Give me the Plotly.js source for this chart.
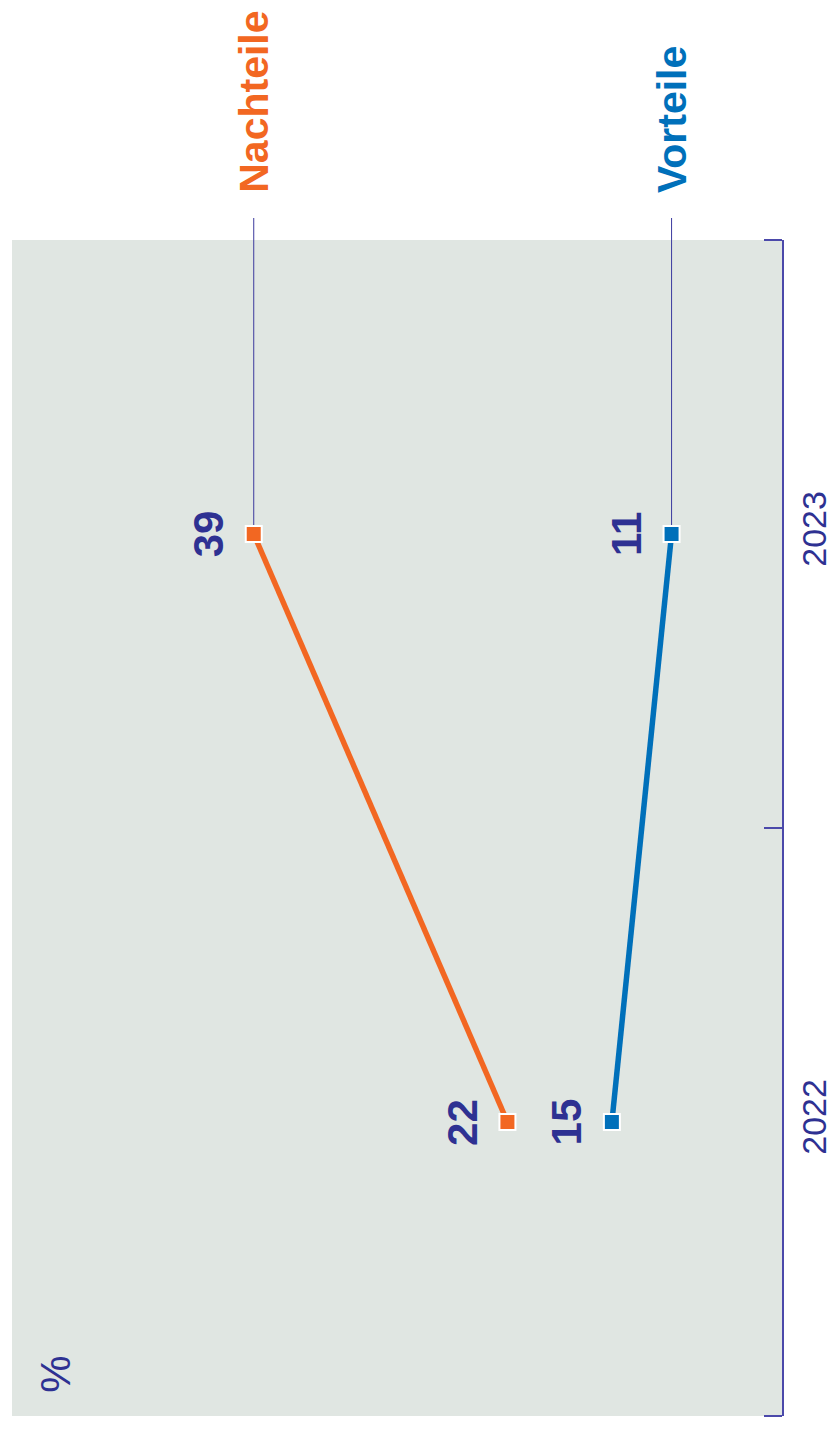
<!DOCTYPE html>
<html><head><meta charset="utf-8">
<script src="https://cdn.plot.ly/plotly-3.0.1.min.js"></script>
<style>html,body{margin:0;padding:0;background:#fff}#chart{width:836px;height:1429px}</style>
</head><body><div id="chart"></div>
<script>
const years = ['2022', '2023'];
const nachteile = [22, 39];
const vorteile = [15, 11];
const seriesNames = ['Nachteile', 'Vorteile'];
const unitLabel = '%';

const orange = '#F26722';
const blue = '#0070BA';
const navy = '#2E3192';
const axisCol = '#4B49AA';
const font = 'Liberation Sans, Arial, sans-serif';

const xRange = [55.2, 3.6];
const yRange = [-0.5, 1.5];
const plotW = 836 - 12 - 54;

function trace(vals, col, name) {
  return {
    type: 'scatter', mode: 'lines+markers', name: name,
    x: vals, y: years, cliponaxis: false,
    line: {color: col, width: 5.5},
    marker: {symbol: 'square', size: 16, color: col, line: {color: '#fff', width: 2}}
  };
}
const data = [trace(nachteile, orange, seriesNames[0]), trace(vorteile, blue, seriesNames[1])];

const annotations = [];
const shapes = [];
function frac(i) { return (i - yRange[0]) / (yRange[1] - yRange[0]); }
[[nachteile, orange, seriesNames[0]], [vorteile, blue, seriesNames[1]]].forEach(([vals, col, name]) => {
  vals.forEach((v, i) => {
    annotations.push({x: v, y: i, xref: 'x', yref: 'y', text: '<b>' + v + '</b>',
      showarrow: false, textangle: -90, xanchor: 'right', yanchor: 'middle', xshift: -20,
      font: {family: font, size: 42, color: navy}});
  });
  const last = vals[vals.length - 1];
  annotations.push({x: last, y: 1 + 45 / 1176, xref: 'x', yref: 'paper', text: '<b>' + name + '</b>',
    showarrow: false, textangle: -90, xanchor: 'center', yanchor: 'bottom',
    font: {family: font, size: 41, color: col}});
  shapes.push({type: 'line', xref: 'x', yref: 'paper', x0: last, x1: last,
    y0: frac(vals.length - 1), y1: 1 + 22 / 1176, layer: 'below',
    line: {color: '#3B3A9E', width: 1}});
});
annotations.push({x: (56 - 12) / plotW, y: 0.035, xref: 'paper', yref: 'paper', text: unitLabel,
  showarrow: false, textangle: -90, xanchor: 'center', yanchor: 'middle',
  font: {family: font, size: 42, color: navy}});
// end ticks of the category axis
[0, 1].forEach(p => shapes.push({type: 'line', xref: 'paper', yref: 'paper',
  x0: 1 - 18 / plotW, x1: 1, y0: p, y1: p, line: {color: axisCol, width: 2}}));

const layout = {
  width: 836, height: 1429,
  margin: {l: 12, r: 54, t: 240, b: 13},
  paper_bgcolor: '#fff', plot_bgcolor: '#E0E6E2',
  showlegend: false,
  xaxis: {range: xRange, showgrid: false, zeroline: false, showticklabels: false, showline: false, ticks: ''},
  yaxis: {type: 'category', categoryarray: years, range: yRange, side: 'right',
    showgrid: false, zeroline: false, showline: true, linecolor: axisCol, linewidth: 2,
    ticks: 'inside', tickson: 'boundaries', ticklen: 18, tickwidth: 2, tickcolor: axisCol,
    tickangle: -90, ticklabelstandoff: 1,
    tickfont: {family: font, size: 34, color: navy}},
  annotations: annotations,
  shapes: shapes
};
Plotly.newPlot('chart', data, layout, {displayModeBar: false, staticPlot: true});
</script></body></html>
